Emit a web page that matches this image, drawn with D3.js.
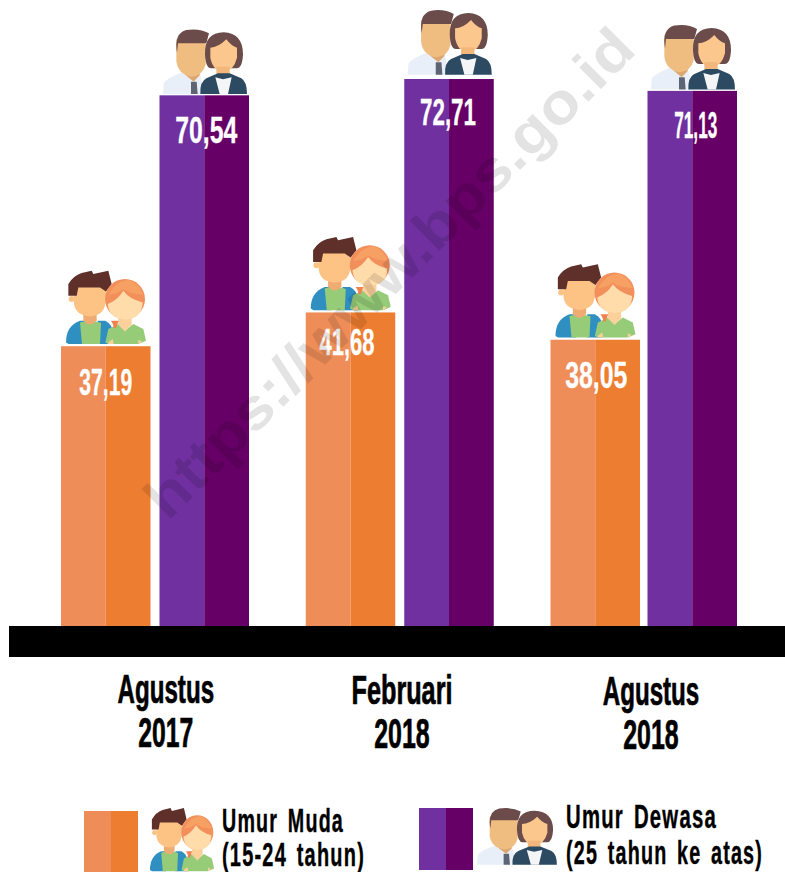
<!DOCTYPE html>
<html><head><meta charset="utf-8">
<style>html,body{margin:0;padding:0;background:#fff;overflow:hidden}svg{display:block}
text{font-family:"Liberation Sans Narrow","Liberation Sans",sans-serif;font-weight:700}</style>
<script src="https://cdn.jsdelivr.net/npm/d3@7/dist/d3.min.js"></script></head><body>
<svg id="c" width="785" height="872"></svg>
<script>
const periods = ["Agustus 2017","Februari 2018","Agustus 2018"];
const periodLine1 = ["Agustus","Februari","Agustus"];
const periodLine2 = ["2017","2018","2018"];
const muda = [37.19,41.68,38.05];
const dewasa = [70.54,72.71,71.13];
const seriesNames = ["Umur Muda","Umur Dewasa"];
const seriesNotes = ["(15-24 tahun)","(25 tahun ke atas)"];
const fmt = v => v.toFixed(2).replace(".",",");

// layout tweaks (not data)
const mudaLabelW=[53,55,62], dewasaLabelW=[62,56,43];
const mudaLabelDy=[49,43,48], dewasaLabelDy=[48,46,47];
const mudaLabelDx=[0,-3.5,1], dewasaLabelDx=[2,-1,3.5];
const dewasaIconDy=[66,69,66];

const svg = d3.select("#c");
const y = d3.scaleLinear().domain([0,72.71]).range([626,79]);
const x0 = d3.scalePoint().domain(periods).range([61,550.5]);
const bw = 89.5, gap=[98.5,98.5,97];

function fitText(sel,txt,cx,base,size,w,fill,anchor,sw){
  return sel.append("text").attr("x",cx).attr("y",base).attr("text-anchor",anchor||"middle")
   .attr("font-size",size).attr("fill",fill).attr("textLength",w).attr("lengthAdjust","spacingAndGlyphs")
   .attr("stroke",fill).attr("stroke-width",sw||0).text(txt);
}
function youngIcon(g){
  const P=(d,f)=>g.append("path").attr("d",d).attr("fill",f);
  P("M0 215 Q0 165 42 150 L60 150 L60 220 L8 220Z","#2f8fc0");
  P("M95 150 L118 150 Q138 160 142 185 L142 220 L95 220Z","#2f8fc0");
  P("M42 155 L55 152 L70 160 L90 152 L105 156 L102 220 L48 220Z","#96cc78");
  P("M52 125 L92 125 L92 150 Q72 172 52 150Z","#eeab72");
  g.append("circle").attr("cx",17).attr("cy",85).attr("r",9).attr("fill","#fdc384");
  P("M24 40 L122 40 L118 100 Q112 135 72 137 Q30 135 24 100Z","#fdc384");
  P("M7 75 L7 40 Q22 15 47 7 L77 0 L82 10 L127 0 L137 40 L120 62 L102 50 L37 50 L32 75Z","#5e3029");
  P("M118 215 L127 175 L157 160 L177 180 L202 160 L232 175 L240 210 L217 220 L127 220Z","#96cc78");
  P("M157 135 L197 135 L197 162 L177 182 L157 162Z","#fbd09a");
  P("M127 215 L140 205 L143 220 L127 220Z","#fbd09a");
  P("M217 207 L228 212 L217 220Z","#fbd09a");
  P("M135 150 Q145 165 142 172 L150 172 L158 150Z","#f0824f");
  g.append("circle").attr("cx",177).attr("cy",85).attr("r",60).attr("fill","#f28f5b");
  P("M125 100 Q155 88 172 60 Q190 85 230 95 Q228 145 177 146 Q130 145 125 100Z","#ffdcaa");
  P("M128 72 Q150 30 190 28 Q215 35 232 72 Q190 70 172 55 Q155 70 128 72Z","#f7a063");
}
function adultIcon(g){
  const P=(d,f)=>g.append("path").attr("d",d).attr("fill",f);
  P("M0 194 L2 162 Q5 150 60 127 L110 130 L125 194Z","#e9eff9");
  P("M84 157 L101 157 L104 194 L84 194Z","#5d6473");
  P("M55 100 L110 100 L110 138 L92 157 Q70 140 55 125Z","#dca76f");
  P("M40 30 L128 30 L128 105 Q120 140 85 142 Q45 135 40 95Z","#f0bd80");
  P("M42 70 Q32 12 70 2 Q110 -4 138 12 L130 42 Q90 42 45 42Z","#6b4c4a");
  P("M126 75 Q124 10 182 9 Q240 12 240 75 Q238 118 220 117 L145 117 Q128 118 126 75Z","#6b4c4a");
  P("M142 55 Q165 55 190 30 Q205 50 222 55 L222 85 Q212 125 182 128 Q150 125 142 85Z","#fbc78d");
  P("M160 112 L200 112 L200 148 L160 148Z","#f3b77c");
  P("M112 194 Q110 157 130 147 L165 132 L200 132 L235 147 Q252 157 252 194Z","#2c4a62");
  P("M157 144 L180 150 L206 144 L195 194 L170 194Z","#f4f5f7");
}

// bars
const groups = svg.selectAll("g.period").data(periods).join("g").attr("class","period");
const colors = [["#ef8d58","#ed7d31"],["#7030a0","#660066"]];
function drawBar(g,px,v,cols,w,dy,dx){
  const t = y(v), h = y(0)-t;
  g.append("rect").attr("x",px).attr("y",t).attr("width",bw/2).attr("height",h).attr("fill",cols[0]);
  g.append("rect").attr("x",px+bw/2).attr("y",t).attr("width",bw/2).attr("height",h).attr("fill",cols[1]);
  fitText(g,fmt(v),px+bw/2+dx,t+dy,36,w,"#fff","middle",0.3);
  return t;
}
groups.each(function(d,i){
  const g = d3.select(this), l = x0(d);
  const t1=drawBar(g,l,muda[i],colors[0],mudaLabelW[i],mudaLabelDy[i],mudaLabelDx[i]);
  youngIcon(g.append("g").attr("transform",`translate(${l+5},${t1-75.5}) scale(${1/3})`));
  const l2=l+gap[i];
  const t2=drawBar(g,l2,dewasa[i],colors[1],dewasaLabelW[i],dewasaLabelDy[i],dewasaLabelDx[i]);
  adultIcon(g.append("g").attr("transform",`translate(${l2+3.5},${t2-dewasaIconDy[i]}) scale(${1/3})`));
});
// baseline
svg.append("rect").attr("x",9).attr("y",y(0)).attr("width",776).attr("height",31).attr("fill","#000");
// category labels
const line1W=[96.5,101,96.5], line2W=[55,55.5,55.5];
const labelX=[165.8,402,651], line1B=[703,704,705], line2B=[747,748,749];
periodLine1.forEach((t,i)=>{
  fitText(svg,t,labelX[i],line1B[i],40,line1W[i],"#000","middle",0.7);
  fitText(svg,periodLine2[i],labelX[i],line2B[i],42,line2W[i],"#000","middle",0.7);
});
// legend
const lg=[{x:84,y:811,h:61,c:colors[0],tx:222,b1:832,b2:866,w1:122,w2:143},
          {x:419,y:808,h:62,c:colors[1],tx:566,b1:828,b2:864,w1:151,w2:197}];
lg.forEach((l,i)=>{
  svg.append("rect").attr("x",l.x).attr("y",l.y).attr("width",27).attr("height",l.h).attr("fill",l.c[0]);
  svg.append("rect").attr("x",l.x+27).attr("y",l.y).attr("width",27).attr("height",l.h).attr("fill",l.c[1]);
  fitText(svg,seriesNames[i],l.tx,l.b1,33,l.w1,"#000","start",0.4).attr("letter-spacing",2).attr("word-spacing",5);
  fitText(svg,seriesNotes[i],l.tx,l.b2,33,l.w2,"#000","start",0.4).attr("letter-spacing",2).attr("word-spacing",5);
});
youngIcon(svg.append("g").attr("transform","translate(150,808) scale(0.267,0.288)"));
adultIcon(svg.append("g").attr("transform","translate(477,808) scale(0.317,0.292)"));

// watermark over everything
svg.append("text").attr("x",0).attr("y",0).attr("transform","translate(168,522) rotate(-45)")
 .attr("font-size",58).attr("fill","#000").attr("fill-opacity",0.11).attr("textLength",665).attr("lengthAdjust","spacingAndGlyphs")
 .style("font-family","'Liberation Sans',sans-serif").text("https://www.bps.go.id");
</script></body></html>
